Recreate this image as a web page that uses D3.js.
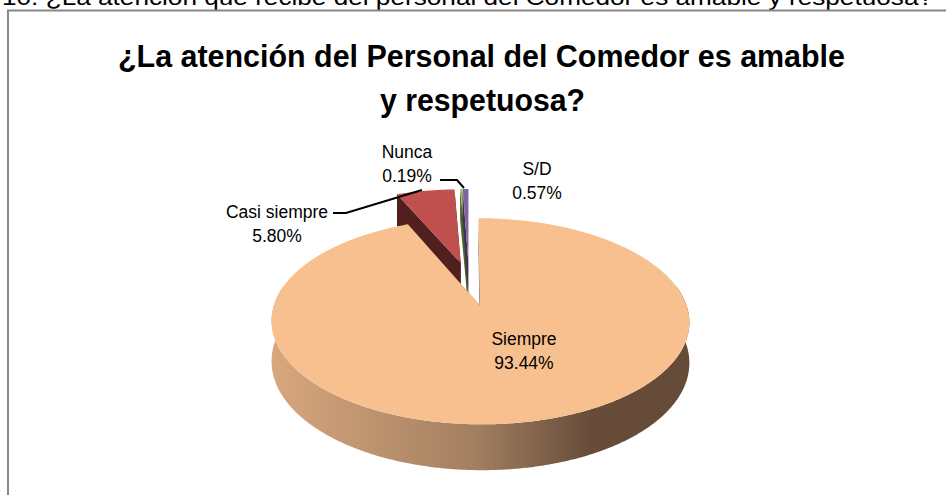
<!DOCTYPE html>
<html>
<head>
<meta charset="utf-8">
<script src="https://cdn.jsdelivr.net/npm/d3@7"></script>
<style>
	body { margin: 0; background: #fff; }
	svg { display: block; }
</style>
</head>
<body>
<svg id="chart" width="946" height="495"></svg>
<script>
// data
const categories = ['Siempre', 'Casi siempre', 'Nunca', 'S/D'];
const percentages = [93.44, 5.80, 0.19, 0.57];
const title = ['¿La atención del Personal del Comedor es amable', 'y respetuosa?'];
const caption = '10. ¿La atención que recibe del personal del Comedor es amable y respetuosa?';

// look
const topColors = ['#F8C08E', '#C0504D', '#9BBB59', '#8064A2'];
const faceColors = ['#8a6a50', '#521F1F', '#4F6228', '#3F3151'];
const explode = [0.265, 0.19, 0.19, 0.19];
const drawOrder = [1, 2, 3, 0];

const width = 946, height = 495;
const cx = 469, cy = 280, rx = 198, ry = 95, k = 0.164, depth = 38;

const svg = d3.select('#chart');

// frame and clipped caption
svg.append('text')
	.attr('x', 2).attr('y', 5)
	.attr('textLength', 931).attr('lengthAdjust', 'spacingAndGlyphs')
	.style('font', '22px "Liberation Sans", Arial, sans-serif')
	.text(caption);

svg.append('rect')
	.attr('x', 8).attr('y', 10.5)
	.attr('width', 960).attr('height', 520)
	.attr('fill', 'none')
	.attr('stroke', '#888')
	.attr('stroke-width', 2);

// title
const titleText = svg.append('g')
	.style('font-family', '"Liberation Sans Narrow", "Arial Narrow", "Liberation Sans", sans-serif')
	.style('font-weight', 'bold')
	.style('font-size', '31px');

titleText.append('text')
	.attr('x', 118).attr('y', 67)
	.attr('textLength', 727).attr('lengthAdjust', 'spacingAndGlyphs')
	.text(title[0]);

titleText.append('text')
	.attr('x', 380).attr('y', 111)
	.attr('textLength', 205).attr('lengthAdjust', 'spacingAndGlyphs')
	.text(title[1]);

// side gradient of the big slice
const grad = svg.append('defs').append('linearGradient')
	.attr('id', 'sideGrad')
	.attr('gradientUnits', 'userSpaceOnUse')
	.attr('x1', cx - rx).attr('x2', cx + rx + 60)
	.attr('y1', 0).attr('y2', 0);
[[0, '#d8a77e'], [0.45, '#a27f60'], [0.7, '#674c3a'], [1, '#654a38']]
	.forEach(([o, c]) => grad.append('stop').attr('offset', o).attr('stop-color', c));

// 3d projection of a tilted disc
function proj(u, v, z) {
	const s = 1 + k * v;
	return [cx + rx * u * s, cy + ry * v * s + depth * s * z];
}

const data = categories.map((c, i) => ({name: c, value: percentages[i], i}));
const arcs = d3.pie().sort(null).value(d => d.value)(data);

const line = d3.line();
const pieG = svg.append('g');

drawOrder.forEach(idx => {
	const a = arcs[idx];
	const e = explode[idx];
	const mid = (a.startAngle + a.endAngle) / 2;
	const ou = e * Math.sin(mid), ov = -e * Math.cos(mid);
	const pt = (ang, r, z) => proj(ou + r * Math.sin(ang), ov - r * Math.cos(ang), z);

	const arcPts = (a0, a1, z) => {
		const n = Math.max(2, Math.ceil((a1 - a0) / (Math.PI / 360)));
		return d3.range(n + 1).map(j => pt(a0 + (a1 - a0) * j / n, 1, z));
	};

	const g = pieG.append('g');

	// radial faces
	[a.startAngle, a.endAngle].forEach(ang => {
		g.append('path')
			.attr('d', line([pt(0, 0, 0), pt(ang, 1, 0), pt(ang, 1, 1), pt(0, 0, 1)]) + 'Z')
			.attr('fill', faceColors[idx]);
	});

	// outer wall, front part only
	const w0 = Math.max(a.startAngle, Math.PI / 2 - 0.2);
	const w1 = Math.min(a.endAngle, 3 * Math.PI / 2 + 0.2);
	if (w1 > w0) {
		const pts = arcPts(w0, w1, 0).concat(arcPts(w0, w1, 1).reverse());
		g.append('path')
			.attr('d', line(pts) + 'Z')
			.attr('fill', idx === 0 ? 'url(#sideGrad)' : faceColors[idx]);
	}

	// top face
	g.append('path')
		.attr('d', line([pt(0, 0, 0)].concat(arcPts(a.startAngle, a.endAngle, 0))) + 'Z')
		.attr('fill', topColors[idx]);
});

// labels
const labelPos = [[524, 345], [277, 218], [407, 158], [537, 175]];
const labels = svg.append('g')
	.style('font', '17.5px "Liberation Sans", Arial, sans-serif')
	.attr('text-anchor', 'middle');

data.forEach((d, i) => {
	const t = labels.append('text').attr('x', labelPos[i][0]).attr('y', labelPos[i][1]);
	t.append('tspan').attr('x', labelPos[i][0]).text(d.name);
	t.append('tspan').attr('x', labelPos[i][0]).attr('dy', 24).text(d.value.toFixed(2) + '%');
});

// leader lines
const leaders = [
	[[333, 213], [346, 213], [422, 190]],
	[[440, 180], [457, 180], [464, 188]]
];
svg.append('g').selectAll('path')
	.data(leaders)
	.join('path')
	.attr('d', d => line(d))
	.attr('fill', 'none')
	.attr('stroke', '#000')
	.attr('stroke-width', 2);
</script>
</body>
</html>
